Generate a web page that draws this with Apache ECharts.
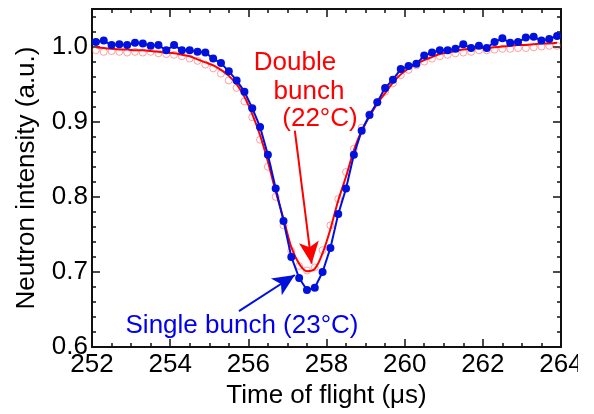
<!DOCTYPE html>
<html>
<head>
<meta charset="utf-8">
<script src="https://cdn.jsdelivr.net/npm/echarts@6/dist/echarts.min.js"></script>
<style>html,body{margin:0;padding:0;background:#fff;}#c{width:594px;height:414px;}</style>
</head>
<body>
<div id="c"></div>
<script>
const timeOfFlight = [252.1,252.3,252.5,252.7,252.9,253.1,253.3,253.5,253.7,253.9,
  254.1,254.3,254.5,254.7,254.9,255.1,255.3,255.5,255.7,255.9,
  256.1,256.3,256.5,256.7,256.9,257.1,257.3,257.5,257.7,257.9,
  258.1,258.3,258.5,258.7,258.9,259.1,259.3,259.5,259.7,259.9,
  260.1,260.3,260.5,260.7,260.9,261.1,261.3,261.5,261.7,261.9,
  262.1,262.3,262.5,262.7,262.9,263.1,263.3,263.5,263.7,263.9];

const singleBunch = [1.006,1.008,1.002,1.003,1.002,1.005,1.004,1.001,1.002,0.995,
  1.002,0.995,0.995,0.993,0.992,0.984,0.978,0.967,0.955,0.940,
  0.918,0.893,0.856,0.811,0.768,0.720,0.692,0.676,0.679,0.700,
  0.732,0.777,0.811,0.856,0.888,0.909,0.926,0.945,0.956,0.970,
  0.974,0.977,0.988,0.992,0.995,0.995,0.997,1.003,0.998,1.001,
  0.998,1.006,1.011,1.005,1.006,1.012,1.013,1.008,1.010,1.014];

const doubleBunchPoints = [0.995,0.993,0.994,0.993,0.992,0.993,0.992,0.993,0.991,0.990,
  0.989,0.987,0.984,0.981,0.976,0.971,0.964,0.955,0.945,0.927,
  0.906,0.876,0.840,0.800,0.762,0.728,0.708,0.702,0.706,0.729,
  0.762,0.797,0.833,0.864,0.892,0.910,0.926,0.940,0.951,0.962,
  0.969,0.975,0.980,0.984,0.987,0.989,0.991,0.992,0.993,0.995,
  0.995,0.996,0.997,0.997,0.998,0.998,0.999,1.000,1.001,1.001];

const doubleBunchCurve = [0.999,0.998,0.997,0.996,0.996,0.995,0.995,0.994,0.993,0.992,
  0.991,0.989,0.987,0.983,0.979,0.975,0.969,0.961,0.950,0.933,
  0.910,0.882,0.847,0.807,0.771,0.733,0.711,0.701,0.704,0.725,
  0.757,0.795,0.827,0.862,0.888,0.907,0.924,0.938,0.952,0.963,
  0.971,0.977,0.982,0.986,0.990,0.992,0.994,0.996,0.997,0.998,
  0.998,0.999,1.000,1.001,1.002,1.002,1.003,1.004,1.004,1.005];

const xTicks = {min: 252, max: 264, step: 2};
const yTicks = {min: 0.6, max: 1.05, step: 0.1, minorStep: 0.02};

const redArrow = [[257.19, 0.888], [257.62, 0.711]];
const blueArrow = [[255.76, 0.648], [257.19, 0.696]];

const FONT = "'Liberation Sans', Arial, Helvetica, sans-serif";
const pair = (xs, ys) => xs.map((x, i) => [x, ys[i]]);

const chart = echarts.init(document.getElementById('c'), null, {renderer: 'canvas'});

const axisLineStyle = {color: '#111', width: 2};
const xBase = (pos, showLabel) => ({
  type: 'value', position: pos, min: xTicks.min, max: xTicks.max, interval: xTicks.step,
  axisLine: {show: true, onZero: false, lineStyle: axisLineStyle},
  axisTick: {show: true, inside: true, length: 8, lineStyle: {color: '#111', width: 1.5}},
  minorTick: {show: true, splitNumber: 4, length: 4, lineStyle: {color: '#111', width: 1.5}},
  axisLabel: {show: showLabel, color: '#000', fontSize: 26, fontFamily: FONT, margin: 5},
  splitLine: {show: false}, minorSplitLine: {show: false}
});
const yMajor = (pos, showLabel) => ({
  type: 'value', position: pos, min: yTicks.min, max: yTicks.max, interval: yTicks.step,
  axisLine: {show: true, onZero: false, lineStyle: axisLineStyle},
  axisTick: {show: true, inside: true, length: 8, lineStyle: {color: '#111', width: 1.5}},
  axisLabel: {show: showLabel, color: '#000', fontSize: 26, fontFamily: FONT, margin: 4,
    showMaxLabel: false,
    formatter: v => (Math.abs(v * 10 - Math.round(v * 10)) < 1e-6 ? v.toFixed(1) : '')},
  splitLine: {show: false}
});
const yMinor = (pos) => ({
  type: 'value', position: pos, min: yTicks.min, max: yTicks.max, interval: yTicks.minorStep,
  axisLine: {show: false, onZero: false},
  axisTick: {show: true, inside: true, length: 4, lineStyle: {color: '#111', width: 1.5}},
  axisLabel: {show: false},
  splitLine: {show: false}
});

const xMain = xBase('bottom', true);
xMain.name = 'Time of flight (\u03bcs)';
xMain.nameLocation = 'middle';
xMain.nameGap = 31;
xMain.nameTextStyle = {color: '#000', fontSize: 26, fontFamily: FONT};

const yMain = yMajor('left', true);
yMain.name = 'Neutron intensity (a.u.)';
yMain.nameLocation = 'middle';
yMain.nameGap = 52;
yMain.nameTextStyle = {color: '#000', fontSize: 26, fontFamily: FONT};

const option = {
  animation: false,
  backgroundColor: '#fff',
  grid: {left: 92, right: 33, top: 9, bottom: 63, containLabel: false},
  xAxis: [xMain, xBase('top', false)],
  yAxis: [yMain, yMinor('left'), yMajor('right', false), yMinor('right')],
  series: [
    {
      name: 'Double bunch points', type: 'scatter', xAxisIndex: 0, yAxisIndex: 0,
      data: pair(timeOfFlight, doubleBunchPoints),
      symbol: 'circle', symbolSize: 7,
      itemStyle: {color: 'rgba(255,255,255,0)', borderColor: 'rgba(255,60,60,0.6)', borderWidth: 1},
      z: 2
    },
    {
      name: 'Double bunch', type: 'line', xAxisIndex: 0, yAxisIndex: 0,
      data: pair(timeOfFlight, doubleBunchCurve),
      smooth: 0.3, showSymbol: false, symbol: 'none',
      lineStyle: {color: '#ff0000', width: 2},
      itemStyle: {color: '#ff0000'},
      markLine: {
        silent: true, animation: false,
        symbol: ['none', 'arrow'], symbolSize: [15, 22],
        label: {show: false},
        lineStyle: {color: '#ff0000', width: 2, type: 'solid'},
        data: [[{coord: redArrow[0]}, {coord: redArrow[1]}]]
      },
      z: 3
    },
    {
      name: 'Single bunch', type: 'line', xAxisIndex: 0, yAxisIndex: 0,
      data: pair(timeOfFlight, singleBunch),
      symbol: 'circle', symbolSize: 8, showSymbol: true,
      lineStyle: {color: '#0011dd', width: 2},
      itemStyle: {color: '#0011dd'},
      markLine: {
        silent: true, animation: false,
        symbol: ['none', 'arrow'], symbolSize: [15, 22],
        label: {show: false},
        lineStyle: {color: '#0011dd', width: 2, type: 'solid'},
        data: [[{coord: blueArrow[0]}, {coord: blueArrow[1]}]]
      },
      z: 4
    }
  ],
  graphic: [
    {type: 'text', x: 295, y: 63, z: 100,
      style: {text: 'Double', fill: '#ff0000', font: '26px ' + FONT, align: 'center', verticalAlign: 'middle'}},
    {type: 'text', x: 309, y: 92, z: 100,
      style: {text: 'bunch', fill: '#ff0000', font: '26px ' + FONT, align: 'center', verticalAlign: 'middle'}},
    {type: 'text', x: 320, y: 119, z: 100,
      style: {text: '(22\u00b0C)', fill: '#ff0000', font: '26px ' + FONT, align: 'center', verticalAlign: 'middle'}},
    {type: 'text', x: 242, y: 326, z: 100,
      style: {text: 'Single bunch (23\u00b0C)', fill: '#0000ee', font: '26px ' + FONT, align: 'center', verticalAlign: 'middle'}},
    {type: 'rect', shape: {x: 578, y: 353, width: 16, height: 61}, style: {fill: '#fff'}, z: 200}
  ]
};
chart.setOption(option);
</script>
</body>
</html>
